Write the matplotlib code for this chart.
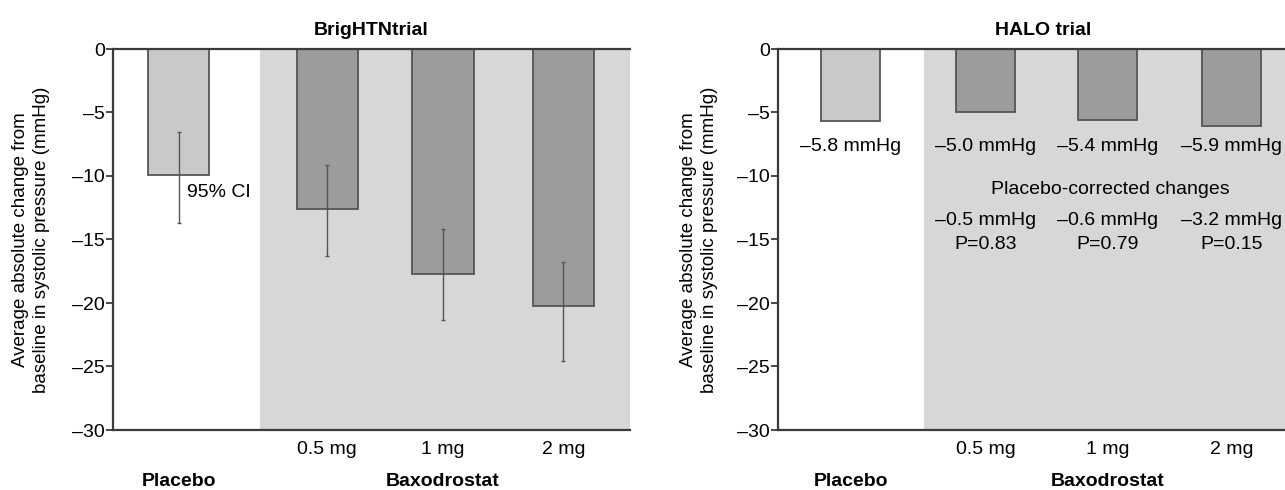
import matplotlib
matplotlib.use('Agg')
import matplotlib.pyplot as plt
import numpy as np

plt.rcParams['font.family'] = ['Liberation Sans', 'DejaVu Sans']

# data
doses = ['Placebo', '0.5 mg', '1 mg', '2 mg']
bright_mean = [-9.9, -12.6, -17.7, -20.2]
bright_ci_low = [-13.7, -16.3, -21.3, -24.6]
bright_ci_high = [-6.5, -9.1, -14.2, -16.8]

halo_mean = [-5.7, -5.0, -5.6, -6.05]
halo_labels = ['\u20135.8 mmHg', '\u20135.0 mmHg', '\u20135.4 mmHg', '\u20135.9 mmHg']
halo_corrected = ['\u20130.5 mmHg', '\u20130.6 mmHg', '\u20133.2 mmHg']
halo_pvalues = ['P=0.83', 'P=0.79', 'P=0.15']

yticks = [0, -5, -10, -15, -20, -25, -30]
ylabel = 'Average absolute change from\nbaseline in systolic pressure (mmHg)'

placebo_col = '#c9c9c9'
drug_col = '#9c9c9c'
shade_col = '#d7d7d7'
edge_col = '#555555'
spine_col = '#3a3a3a'
fs = 14


def setup_axes(ax, xpos, xlim, shade_start, title, label_x):
    ax.set_xlim(*xlim)
    ax.set_ylim(-30, 0)
    ax.axvspan(shade_start, xlim[1], color=shade_col, zorder=0, lw=0)
    for s in ['left', 'top', 'bottom']:
        ax.spines[s].set_color(spine_col)
        ax.spines[s].set_linewidth(1.6)
        ax.spines[s].set_zorder(5)
    ax.spines['right'].set_visible(False)
    ax.set_yticks(yticks)
    ax.set_yticklabels([f'{t:d}'.replace('-', '\u2013') for t in yticks], fontsize=fs)
    ax.tick_params(axis='y', direction='out', length=5, width=1.3, color=spine_col, pad=1)
    ax.set_xticks(xpos[1:])
    ax.set_xticklabels(doses[1:], fontsize=fs)
    ax.tick_params(axis='x', length=0, pad=8)
    ax.set_ylabel(ylabel, fontsize=13.5, linespacing=1.3)
    ax.yaxis.set_label_coords(label_x, 0.5)
    ax.set_title(title, fontsize=fs, fontweight='bold', pad=10)
    tr = ax.get_xaxis_transform()
    ax.text(xpos[0], -0.135, 'Placebo', transform=tr, ha='center', va='center',
            fontsize=fs, fontweight='bold')
    ax.text(xpos[2], -0.135, 'Baxodrostat', transform=tr, ha='center', va='center',
            fontsize=fs, fontweight='bold')


fig = plt.figure(figsize=(12.85, 4.9), dpi=100)

# BrigHTN panel
ax1 = fig.add_axes([113 / 1285, 1 - 430 / 490, 517 / 1285, 381 / 490])
x1 = [0, 1.26, 2.24, 3.26]
setup_axes(ax1, x1, (-0.555, 3.825), 0.69, 'BrigHTNtrial', -0.122)
colors = [placebo_col] + [drug_col] * 3
ax1.bar(x1, bright_mean, width=0.52, color=colors, edgecolor=edge_col, linewidth=1.3, zorder=2)
m = np.array(bright_mean)
err = [m - np.array(bright_ci_low), np.array(bright_ci_high) - m]
ax1.errorbar(x1, bright_mean, yerr=err, fmt='none', ecolor='#555555', elinewidth=1.0,
             capsize=1.5, capthick=1.0, zorder=3)
ax1.text(0.07, -11.3, '95% CI', fontsize=fs, ha='left', va='center', zorder=4)

# HALO panel
ax2 = fig.add_axes([778 / 1285, 1 - 430 / 490, 530 / 1285, 381 / 490])
x2 = [0, 1.1, 2.09, 3.1]
setup_axes(ax2, x2, (-0.59, 3.72), 0.6, 'HALO trial', -0.113)
ax2.bar(x2, halo_mean, width=0.48, color=colors, edgecolor=edge_col, linewidth=1.3, zorder=2)
for x, lab in zip(x2, halo_labels):
    ax2.text(x, -7.7, lab, fontsize=fs, ha='center', va='center')
ax2.text(2.11, -11.1, 'Placebo-corrected changes', fontsize=fs, ha='center', va='center')
for x, c, p in zip(x2[1:], halo_corrected, halo_pvalues):
    ax2.text(x, -13.5, c, fontsize=fs, ha='center', va='center')
    ax2.text(x, -15.4, p, fontsize=fs, ha='center', va='center')

fig.savefig('out.png', dpi=100)
